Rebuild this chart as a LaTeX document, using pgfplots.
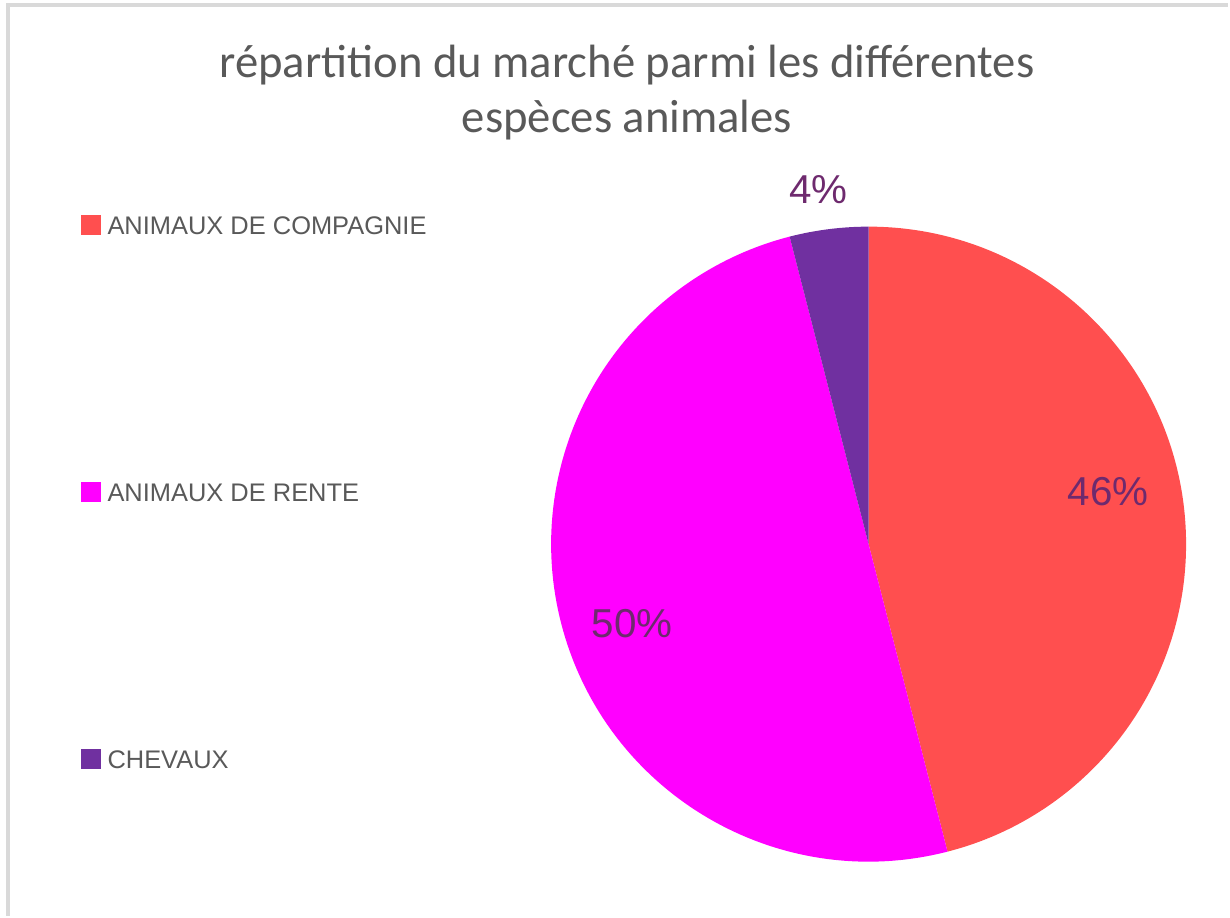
\documentclass[border=0pt]{standalone}
\usepackage{pgfplots}
\pgfplotsset{compat=1.18}
\usepackage{pgfplotstable}
\usepackage{fontspec}
\setmainfont{Liberation Sans}
\newfontfamily\titlefont{Carlito}

\definecolor{cComp}{HTML}{FF4F4F}
\definecolor{cRente}{HTML}{FF00FF}
\definecolor{cChev}{HTML}{7030A0}
\definecolor{labelc}{HTML}{6E2A6E}
\definecolor{titlec}{HTML}{595959}
\definecolor{framec}{HTML}{D9D9D9}

% market share in percent, in clockwise order from 12 o'clock
\pgfplotstableread{
share
46
50
4
}\parts

\pgfplotstablegetelem{0}{share}\of\parts \let\sA\pgfplotsretval
\pgfplotstablegetelem{1}{share}\of\parts \let\sB\pgfplotsretval
\pgfplotstablegetelem{2}{share}\of\parts \let\sC\pgfplotsretval
\pgfmathsetmacro\eA{90-3.6*\sA}
\pgfmathsetmacro\eB{\eA-3.6*\sB}
\pgfmathsetmacro\eC{\eB-3.6*\sC}

\begin{document}
\begin{tikzpicture}
\begin{axis}[
    width=12.3cm, height=9.17cm,
    scale only axis,
    xmin=0, xmax=1230, ymin=0, ymax=917,
    hide axis,
    clip=false,
    legend cell align=left,
    legend image code/.code={\fill[#1, draw=none] (0cm,-0.11cm) rectangle (0.2cm,0.09cm);},
    legend style={
        at={(axis cs:80,703)}, anchor=north west,
        draw=none, fill=none, inner sep=0pt,
        row sep=2.465cm, column sep=0.07cm,
        font=\fontsize{7.25pt}{8pt}\selectfont, text=titlec,
        nodes={inner sep=0pt, text height=0.2cm, text depth=0cm},
    },
]
% frame
\draw[framec, line width=0.4mm] (axis cs:8,0) -- (axis cs:8,912) -- (axis cs:1230,912);
\path (axis cs:0,0) rectangle (axis cs:1230,917);

% pie
\fill[cComp]  (axis cs:870,372) -- ++(90:3.18cm)  arc[start angle=90,  end angle=\eA, radius=3.18cm] -- cycle;
\fill[cRente] (axis cs:870,372) -- ++(\eA:3.18cm) arc[start angle=\eA, end angle=\eB, radius=3.18cm] -- cycle;
\fill[cChev]  (axis cs:870,372) -- ++(\eB:3.18cm) arc[start angle=\eB, end angle=\eC, radius=3.18cm] -- cycle;

% data labels
\node[text=labelc, font=\fontsize{11.5pt}{13pt}\selectfont] at (axis cs:1110,425) {46\%};
\node[text=labelc, font=\fontsize{11.5pt}{13pt}\selectfont] at (axis cs:633,292) {50\%};
\node[text=labelc, font=\fontsize{11.5pt}{13pt}\selectfont] at (axis cs:820,727) {4\%};

% title
\node[text=titlec, align=center, font=\titlefont\fontsize{13.3pt}{15.6pt}\selectfont]
    at (axis cs:628,824) {répartition du marché parmi les différentes\\espèces animales};

\addlegendimage{fill=cComp}
\addlegendentry{ANIMAUX DE COMPAGNIE}
\addlegendimage{fill=cRente}
\addlegendentry{ANIMAUX DE RENTE}
\addlegendimage{fill=cChev}
\addlegendentry{CHEVAUX}
\end{axis}
\end{tikzpicture}
\end{document}
